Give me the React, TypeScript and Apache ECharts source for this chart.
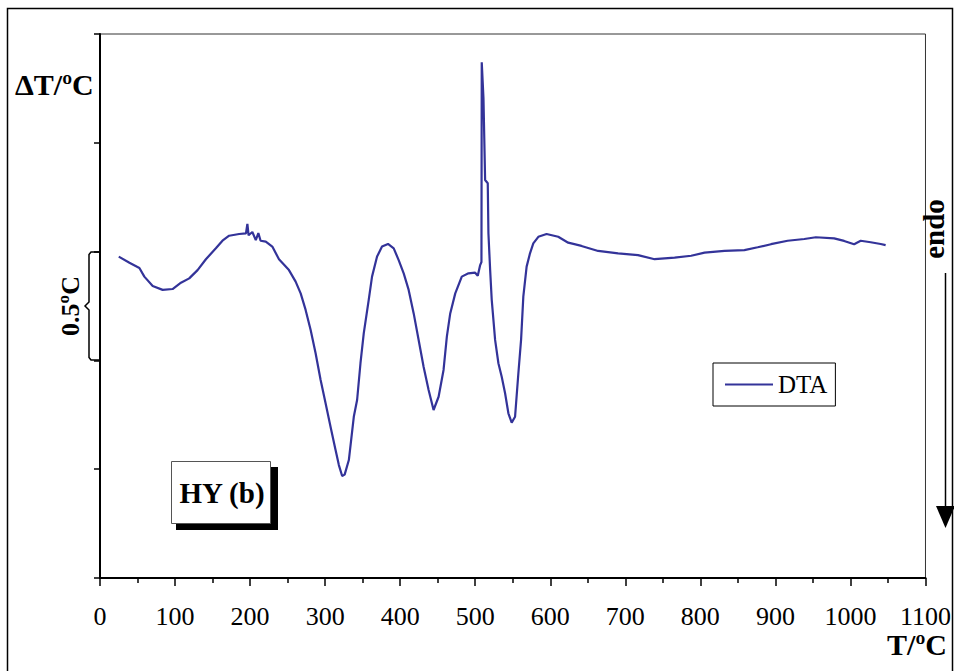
import React, { useEffect, useRef } from "react";
import * as echarts from "echarts";

// Temperature (°C) and ΔT (°C, arbitrary baseline)
const tempC = [
  25.0, 39.2, 52.5, 59.1, 70.2, 83.5, 96.7, 107.9, 118.9, 130.0, 141.1, 154.4, 163.2, 172.1, 185.4,
  194.5, 196.4, 198.0, 203.0, 207.6, 211.0, 214.0, 220.9, 229.6, 238.5, 251.8, 260.7, 267.4, 274.0,
  280.7, 287.3, 294.0, 300.6, 307.2, 313.9, 318.3, 322.7, 326.0, 331.6, 338.2, 342.6, 347.1, 351.5,
  358.1, 362.5, 369.2, 375.8, 383.8, 391.4, 398.0, 404.7, 411.3, 418.0, 424.6, 431.2, 437.9, 444.5,
  451.2, 457.8, 462.2, 466.7, 473.4, 482.1, 491.0, 499.9, 503.4, 506.6, 508.3, 508.7, 511.0, 513.2,
  516.7, 517.6, 519.9, 522.0, 526.5, 530.9, 535.3, 539.8, 544.2, 548.6, 553.1, 557.5, 561.1, 564.1,
  568.5, 573.0, 577.4, 584.1, 595.1, 610.6, 623.9, 641.6, 663.8, 690.4, 716.9, 739.1, 765.7, 787.8,
  805.6, 832.2, 858.7, 876.4, 894.1, 916.3, 938.5, 953.9, 978.3, 991.6, 1004.9, 1013.7, 1027.0,
  1040.3, 1046.9,
];
const deltaT = [
  1.477, 1.449, 1.425, 1.385, 1.342, 1.324, 1.328, 1.357, 1.377, 1.415, 1.465, 1.515, 1.55, 1.573, 1.581,
  1.584, 1.627, 1.575, 1.59, 1.553, 1.585, 1.55, 1.546, 1.523, 1.465, 1.415, 1.362, 1.308, 1.232,
  1.14, 1.033, 0.91, 0.803, 0.695, 0.588, 0.519, 0.469, 0.475, 0.542, 0.741, 0.818, 0.987, 1.125,
  1.278, 1.385, 1.477, 1.523, 1.535, 1.515, 1.461, 1.4, 1.324, 1.216, 1.094, 0.971, 0.864, 0.772,
  0.833, 0.956, 1.109, 1.216, 1.308, 1.385, 1.4, 1.403, 1.389, 1.438, 1.452, 2.37, 2.204, 1.829,
  1.814, 1.584, 1.415, 1.278, 1.094, 0.987, 0.925, 0.849, 0.757, 0.714, 0.741, 0.941, 1.094, 1.293,
  1.431, 1.492, 1.538, 1.568, 1.581, 1.568, 1.541, 1.526, 1.503, 1.492, 1.484, 1.465, 1.472, 1.481,
  1.495, 1.503, 1.507, 1.52, 1.534, 1.55, 1.558, 1.566, 1.561, 1.549, 1.534, 1.55, 1.543,
  1.535, 1.53,
];
const seriesName = "DTA";
const xTitle = "T/ºC";
const yTitle = "ΔT/ºC";
const scaleText = "0.5ºC";
const sampleText = "HY (b)";
const endoText = "endo";

const SERIF = '"Liberation Serif", "Times New Roman", "DejaVu Serif", serif';

export default function App() {
  const ref = useRef<HTMLDivElement>(null);
  useEffect(() => {
    if (!ref.current) return;
    const chart = echarts.init(ref.current, undefined, { renderer: "svg" });
    const data = tempC.map((t, i) => [t, deltaT[i]]);
    chart.setOption({
      animation: false,
      backgroundColor: "#fff",
      grid: {
        left: 100,
        top: 34,
        width: 828,
        height: 544,
        show: true,
        borderColor: "#333",
        borderWidth: 1,
        backgroundColor: "transparent",
      },
      legend: {
        data: [seriesName],
        left: 713,
        top: 363,
        borderColor: "#000",
        borderWidth: 1,
        padding: [9, 8, 9, 12],
        icon: "rect",
        itemWidth: 48,
        itemHeight: 2,
        textStyle: { fontFamily: SERIF, fontSize: 25, color: "#000" },
      },
      xAxis: {
        type: "value",
        min: 0,
        max: 1100,
        interval: 100,
        axisLine: { onZero: false, lineStyle: { color: "#000", width: 2 } },
        axisTick: { length: 8, lineStyle: { color: "#000", width: 1.5 } },
        minorTick: { show: true, splitNumber: 2, length: 5, lineStyle: { color: "#000", width: 1.5 } },
        splitLine: { show: false },
        axisLabel: {
          fontFamily: SERIF,
          fontSize: 26,
          color: "#000",
          margin: 25,
          formatter: (v: number) => String(v),
        },
      },
      yAxis: {
        type: "value",
        min: 0,
        max: 2.5,
        interval: 0.5,
        axisLine: { show: true, onZero: false, lineStyle: { color: "#000", width: 2 } },
        axisTick: { show: true, length: 6, lineStyle: { color: "#000", width: 1.5 } },
        axisLabel: { show: false },
        splitLine: { show: false },
      },
      series: [
        {
          name: seriesName,
          type: "line",
          data,
          symbol: "none",
          lineStyle: { color: "#333399", width: 2.2 },
          itemStyle: { color: "#333399" },
          z: 3,
        },
      ],
      graphic: [
        {
          type: "rect",
          shape: { x: 7.5, y: 8.5, width: 945, height: 700 },
          style: { fill: "none", stroke: "#000", lineWidth: 1.5 },
          silent: true,
        },
        {
          type: "text",
          x: 15,
          y: 84,
          style: { text: yTitle, font: `bold 30px ${SERIF}`, fill: "#000", verticalAlign: "middle" },
        },
        {
          type: "text",
          x: 947,
          y: 644,
          style: { text: xTitle, font: `bold 30px ${SERIF}`, fill: "#000", align: "right", verticalAlign: "middle" },
        },
        {
          type: "polyline",
          shape: {
            points: [
              [100, 252], [91, 252], [89, 254.5], [89, 302], [85, 306], [89, 310], [89, 357.5], [91, 360], [100, 360],
            ],
          },
          style: { fill: "none", stroke: "#000", lineWidth: 1.5 },
        },
        {
          type: "text",
          x: 70,
          y: 306,
          rotation: Math.PI / 2,
          style: { text: scaleText, font: `bold 26px ${SERIF}`, fill: "#000", align: "center", verticalAlign: "middle" },
        },
        {
          type: "rect",
          shape: { x: 176, y: 467, width: 102, height: 63 },
          style: { fill: "#000" },
        },
        {
          type: "rect",
          shape: { x: 171.5, y: 461.5, width: 99, height: 62 },
          style: { fill: "#fff", stroke: "#555", lineWidth: 1 },
        },
        {
          type: "text",
          x: 222,
          y: 493,
          style: { text: sampleText, font: `bold 29px ${SERIF}`, fill: "#000", align: "center", verticalAlign: "middle" },
        },
        {
          type: "text",
          x: 934,
          y: 229,
          rotation: Math.PI / 2,
          style: { text: endoText, font: `bold 29px ${SERIF}`, fill: "#000", align: "center", verticalAlign: "middle" },
        },
        {
          type: "line",
          shape: { x1: 945.5, y1: 273, x2: 945.5, y2: 510 },
          style: { stroke: "#000", lineWidth: 1.5 },
        },
        {
          type: "polygon",
          shape: { points: [[936, 506], [955, 506], [945.5, 528]] },
          style: { fill: "#000" },
        },
      ],
    });
    return () => chart.dispose();
  }, []);
  return (
    <div
      ref={ref}
      style={{ position: "fixed", left: 0, top: 0, width: 954, height: 671, background: "#fff" }}
    />
  );
}
